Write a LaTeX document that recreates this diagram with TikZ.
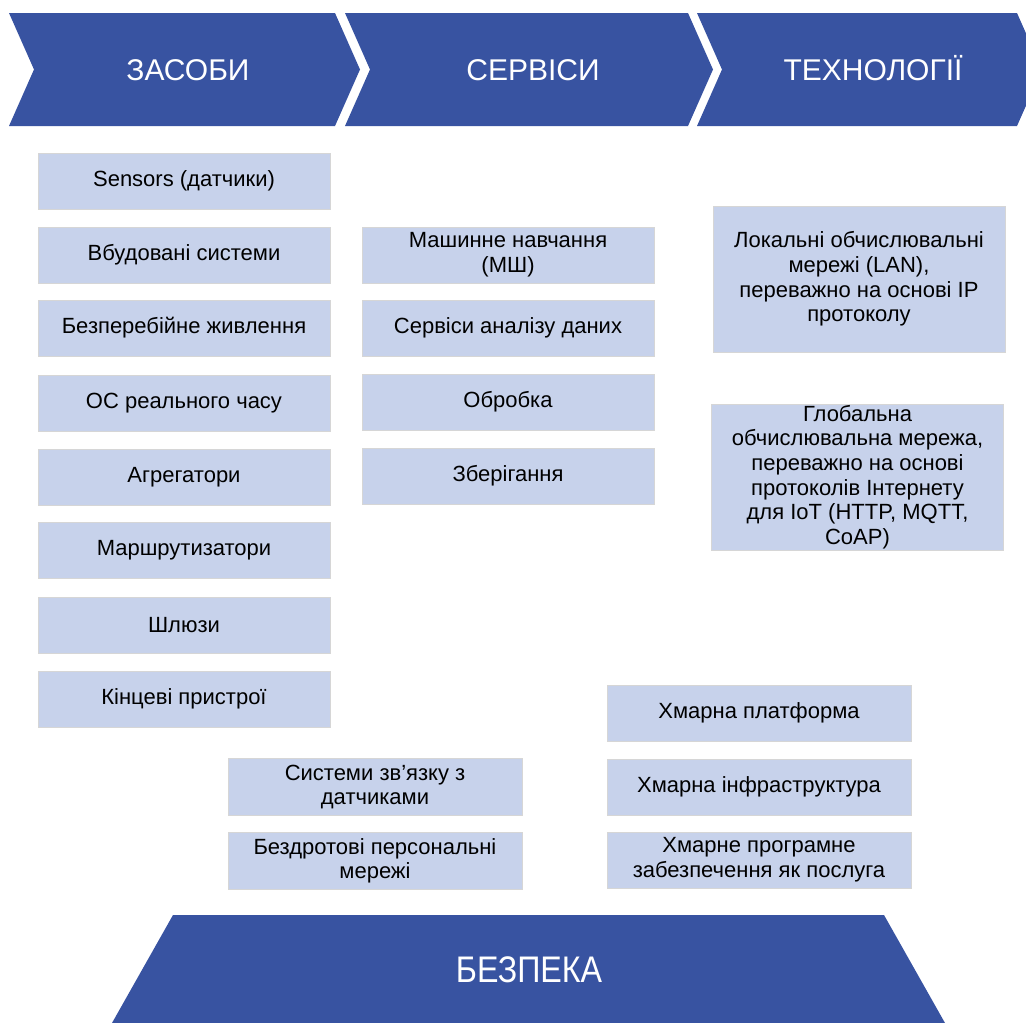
\documentclass[tikz,border=0pt]{standalone}
\usepackage{fontspec}
\setmainfont{Liberation Sans}

\definecolor{bandblue}{RGB}{56,83,161}
\definecolor{itemfill}{RGB}{199,210,235}
\definecolor{itemline}{RGB}{214,214,214}

\begin{document}
\begin{tikzpicture}[x=1pt,y=-1pt,
  item/.style={draw=itemline, line width=0.8pt, fill=itemfill, rectangle,
    minimum width=292pt, minimum height=56pt, inner sep=0pt, align=center,
    font=\fontsize{22}{24.6}\selectfont},
  bigitem/.style={item, minimum height=146pt},
  head/.style={text=white, anchor=base, font=\fontsize{30}{36}\selectfont}]
\useasboundingbox (0,0) rectangle (1026,1023);

%Shape: Chevrons
\draw [fill=bandblue, draw=none] (9,13) -- (335,13) -- (360,69.5) -- (335,126) -- (9,126) -- (34,69.5) -- cycle ;
\draw [fill=bandblue, draw=none] (345,13) -- (688,13) -- (713,69.5) -- (688,126) -- (345,126) -- (370,69.5) -- cycle ;
\draw [fill=bandblue, draw=none] (697,13) -- (1017,13) -- (1042,69.5) -- (1017,126) -- (697,126) -- (722,69.5) -- cycle ;
%Shape: Trapezoid
\draw [fill=bandblue, draw=none] (173,915) -- (884,915) -- (945,1023) -- (112,1023) -- cycle ;

% Text Node
\node [head] (zasoby) at (188,80) {ЗАСОБИ};
\node [head] (servisy) at (533,80) {СЕРВІСИ};
\node [head] (tekhn) at (873,80) {ТЕХНОЛОГІЇ};
\node [text=white, anchor=base, font=\fontsize{37}{44}\selectfont, xscale=0.87] (bezpeka) at (529,982) {БЕЗПЕКА};

%Засоби
\node [item] (sens) at (184,181) {Sensors (датчики)};
\node [item] (vbud) at (184,255) {Вбудовані системи};
\node [item] (zhyv) at (184,328) {Безперебійне живлення};
\node [item] (osrch) at (184,403) {ОС реального часу};
\node [item] (agr) at (184,477) {Агрегатори};
\node [item] (marsh) at (184,550) {Маршрутизатори};
\node [item] (shl) at (184,625) {Шлюзи};
\node [item] (kinc) at (184,699) {Кінцеві пристрої};

%Сервіси
\node [item] (ml) at (508,255) {Машинне навчання\\(МШ)};
\node [item] (anal) at (508,328) {Сервіси аналізу даних};
\node [item] (obr) at (508,402) {Обробка};
\node [item] (zber) at (508,476) {Зберігання};

%Технології
\node [bigitem] (lan) at (859,279) {Локальні обчислювальні\\мережі (LAN),\\переважно на основі IP\\протоколу};
\node [bigitem] (wan) at (857.5,477) {Глобальна\\обчислювальна мережа,\\переважно на основі\\протоколів Інтернету\\для IoT (HTTP, MQTT,\\CoAP)};

%Зв'язок
\node [item, minimum width=294pt, minimum height=57pt] (sysz) at (375,787) {Системи зв’язку з\\датчиками};
\node [item, minimum width=294pt, minimum height=57pt] (bpm) at (375,861) {Бездротові персональні\\мережі};

%Хмара
\node [item, minimum width=304pt] (hplat) at (759,713) {Хмарна платформа};
\node [item, minimum width=304pt] (hinfr) at (759,787) {Хмарна інфраструктура};
\node [item, minimum width=304pt] (hsaas) at (759,860) {Хмарне програмне\\забезпечення як послуга};

\end{tikzpicture}
\end{document}
